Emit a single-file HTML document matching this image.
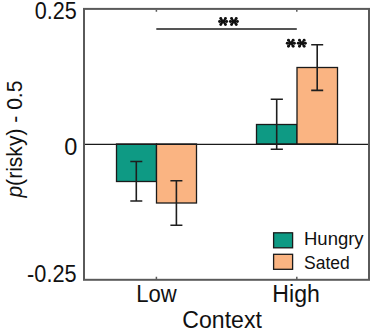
<!DOCTYPE html>
<html><head><meta charset="utf-8">
<style>
html,body{margin:0;padding:0;background:#fff;width:377px;height:333px;overflow:hidden}
svg{display:block}
text{font-family:"Liberation Sans",sans-serif;fill:#111}
</style></head>
<body>
<svg width="377" height="333" viewBox="0 0 377 333">
<!-- bars -->
<rect x="116.5" y="144" width="40" height="37.5" fill="#0e9a84" stroke="#1a1a1a" stroke-width="1.3"/>
<rect x="156.5" y="144" width="40" height="59" fill="#fab482" stroke="#1a1a1a" stroke-width="1.3"/>
<rect x="256.5" y="124.5" width="40.5" height="19.5" fill="#0e9a84" stroke="#1a1a1a" stroke-width="1.3"/>
<rect x="297" y="67.5" width="40.5" height="76.5" fill="#fab482" stroke="#1a1a1a" stroke-width="1.3"/>
<!-- zero line -->
<line x1="84" y1="144.3" x2="369" y2="144.3" stroke="#1a1a1a" stroke-width="1.3"/>
<!-- error bars -->
<g stroke="#1e1e1e" stroke-width="1.6" fill="none">
<path d="M136.3 161.5V201M130.3 161.5H142.3M130.3 201H142.3"/>
<path d="M176.4 180.8V225.2M170.4 180.8H182.4M170.4 225.2H182.4"/>
<path d="M276.7 99.2V149.2M270.7 99.2H282.9M270.7 149.2H282.9"/>
<path d="M317.2 44.7V90.4M311.2 44.7H323.2M311.2 90.4H323.2"/>
</g>
<!-- axes box -->
<rect x="84" y="8.9" width="285" height="270.9" fill="none" stroke="#5a5a5a" stroke-width="2"/>
<g stroke="#5a5a5a" stroke-width="1.5">
<path d="M156.4 10V11.8M296.8 10V11.8M156.4 279V276.8M296.8 279V276.8"/>
</g>
<!-- significance line -->
<line x1="156.3" y1="29" x2="296.8" y2="29" stroke="#555" stroke-width="1.9"/>
<!-- tick labels -->
<g font-size="23.5" text-anchor="end">
<text x="76.8" y="18.8" textLength="42" lengthAdjust="spacingAndGlyphs">0.25</text>
<text x="77.3" y="154.5">0</text>
<text x="76.6" y="282.3" textLength="49.5" lengthAdjust="spacingAndGlyphs">-0.25</text>
</g>
<g font-size="22" text-anchor="middle">
<text x="156.5" y="301.6" font-size="23.3" textLength="40.5" lengthAdjust="spacingAndGlyphs">Low</text>
<text x="296.1" y="301.6" font-size="23.3" textLength="47.5" lengthAdjust="spacingAndGlyphs">High</text>
<text x="222.1" y="327.9" font-size="23.5" textLength="79.5" lengthAdjust="spacingAndGlyphs">Context</text>
</g>
<text transform="translate(22.2 197.6) rotate(-90)" font-size="22" textLength="117" lengthAdjust="spacingAndGlyphs"><tspan font-style="italic">p</tspan>(risky) - 0.5</text>
<!-- stars -->
<g fill="#111">
<path d="M219.55 21.50H226.65M220.75 18.45L225.45 24.55M225.45 18.45L220.75 24.55M230.35 21.50H237.45M231.55 18.45L236.25 24.55M236.25 18.45L231.55 24.55M287.25 43.20H294.35M288.45 40.15L293.15 46.25M293.15 40.15L288.45 46.25M298.25 43.20H305.35M299.45 40.15L304.15 46.25M304.15 40.15L299.45 46.25" stroke="#111" stroke-width="1.9" fill="none"/>
<circle cx="219.55" cy="21.50" r="1.45"/><circle cx="226.65" cy="21.50" r="1.45"/><circle cx="220.75" cy="18.45" r="1.45"/><circle cx="225.45" cy="24.55" r="1.45"/><circle cx="225.45" cy="18.45" r="1.45"/><circle cx="220.75" cy="24.55" r="1.45"/><circle cx="230.35" cy="21.50" r="1.45"/><circle cx="237.45" cy="21.50" r="1.45"/><circle cx="231.55" cy="18.45" r="1.45"/><circle cx="236.25" cy="24.55" r="1.45"/><circle cx="236.25" cy="18.45" r="1.45"/><circle cx="231.55" cy="24.55" r="1.45"/><circle cx="287.25" cy="43.20" r="1.45"/><circle cx="294.35" cy="43.20" r="1.45"/><circle cx="288.45" cy="40.15" r="1.45"/><circle cx="293.15" cy="46.25" r="1.45"/><circle cx="293.15" cy="40.15" r="1.45"/><circle cx="288.45" cy="46.25" r="1.45"/><circle cx="298.25" cy="43.20" r="1.45"/><circle cx="305.35" cy="43.20" r="1.45"/><circle cx="299.45" cy="40.15" r="1.45"/><circle cx="304.15" cy="46.25" r="1.45"/><circle cx="304.15" cy="40.15" r="1.45"/><circle cx="299.45" cy="46.25" r="1.45"/>
</g>
<!-- legend -->
<rect x="273.6" y="232.8" width="19" height="15" fill="#0e9a84" stroke="#1a1a1a" stroke-width="1.3"/>
<rect x="273.6" y="254.3" width="19" height="15" fill="#fab482" stroke="#1a1a1a" stroke-width="1.3"/>
<g font-size="17.5">
<text x="304" y="245" textLength="59.6" lengthAdjust="spacingAndGlyphs">Hungry</text>
<text x="304" y="268.6">Sated</text>
</g>
</svg>
</body></html>
